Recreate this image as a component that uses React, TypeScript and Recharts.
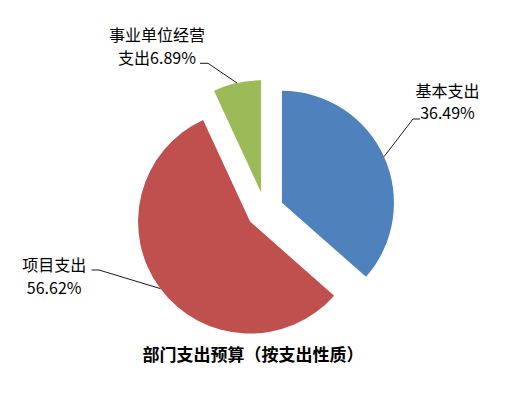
import React from 'react';
import { PieChart, Pie, Cell, Sector } from 'recharts';

const CATEGORIES = ['基本支出', '项目支出', '事业单位经营支出'];
const VALUES = [36.49, 56.62, 6.89];
const LABEL_LINE1 = ['基本支出', '项目支出', '事业单位经营'];
const LABEL_PREFIX2 = ['', '', '支出'];
const COLORS = ['#4F81BD', '#C0504D', '#9BBB59'];
const TITLE = '部门支出预算（按支出性质）';

const data = CATEGORIES.map((name, i) => ({ name, value: VALUES[i] }));

const W = 521;
const H = 394;
const CX = 265;
const CY = 210.5;
const R = 112;
const EXPLODE = 18.6;
const RADIAN = Math.PI / 180;
const FONT = '"Noto Sans CJK SC", "Noto Sans", sans-serif';

const LABEL_LAYOUT = [
  { elbow: [413, 119], end: [420, 119], tx: 447.5, y1: 96.5, y2: 119 },
  { elbow: [99, 270], end: [91.5, 270], tx: 54.2, y1: 270.5, y2: 293.5 },
  { elbow: [208, 63.3], end: [200, 63.3], tx: 157, y1: 41, y2: 64 },
];

const ExplodedSector = (props: any) => {
  const { cx, cy, midAngle, innerRadius, outerRadius, startAngle, endAngle, fill } = props;
  const dx = EXPLODE * Math.cos(-midAngle * RADIAN);
  const dy = EXPLODE * Math.sin(-midAngle * RADIAN);
  return (
    <Sector
      cx={cx + dx}
      cy={cy + dy}
      innerRadius={innerRadius}
      outerRadius={outerRadius}
      startAngle={startAngle}
      endAngle={endAngle}
      fill={fill}
      stroke="none"
    />
  );
};

const renderLabel = (props: any) => {
  const { cx, cy, midAngle, outerRadius, index, value } = props;
  const cos = Math.cos(-midAngle * RADIAN);
  const sin = Math.sin(-midAngle * RADIAN);
  const sx = cx + (EXPLODE + outerRadius) * cos;
  const sy = cy + (EXPLODE + outerRadius) * sin;
  const L = LABEL_LAYOUT[index];
  return (
    <g key={`lbl-${index}`}>
      <polyline
        points={`${sx},${sy} ${L.elbow[0]},${L.elbow[1]} ${L.end[0]},${L.end[1]}`}
        fill="none"
        stroke="#000"
        strokeWidth={0.9}
      />
      <text x={L.tx} y={L.y1} textAnchor="middle" fontFamily={FONT} fontSize={16} fill="#000">
        {LABEL_LINE1[index]}
      </text>
      <text x={L.tx} y={L.y2} textAnchor="middle" fontFamily={FONT} fontSize={16} fill="#000">
        {`${LABEL_PREFIX2[index]}${value.toFixed(2)}%`}
      </text>
    </g>
  );
};

export default function App() {
  return (
    <div style={{ position: 'absolute', left: 0, top: 0, width: W, height: H, background: '#fff' }}>
      <PieChart width={W} height={H} margin={{ top: 0, right: 0, bottom: 0, left: 0 }}>
        <Pie
          data={data}
          dataKey="value"
          nameKey="name"
          cx={CX}
          cy={CY}
          innerRadius={0}
          outerRadius={R}
          startAngle={90}
          endAngle={-270}
          stroke="none"
          shape={ExplodedSector}
          label={renderLabel}
          labelLine={false}
          isAnimationActive={false}
        >
          {data.map((d, i) => (
            <Cell key={d.name} fill={COLORS[i]} />
          ))}
        </Pie>
      </PieChart>
      <svg
        width={W}
        height={H}
        style={{ position: 'absolute', left: 0, top: 0, pointerEvents: 'none' }}
      >
        <text x={253} y={361} textAnchor="middle" fontFamily={FONT} fontSize={17} fontWeight="bold" fill="#000">
          {TITLE}
        </text>
      </svg>
    </div>
  );
}
